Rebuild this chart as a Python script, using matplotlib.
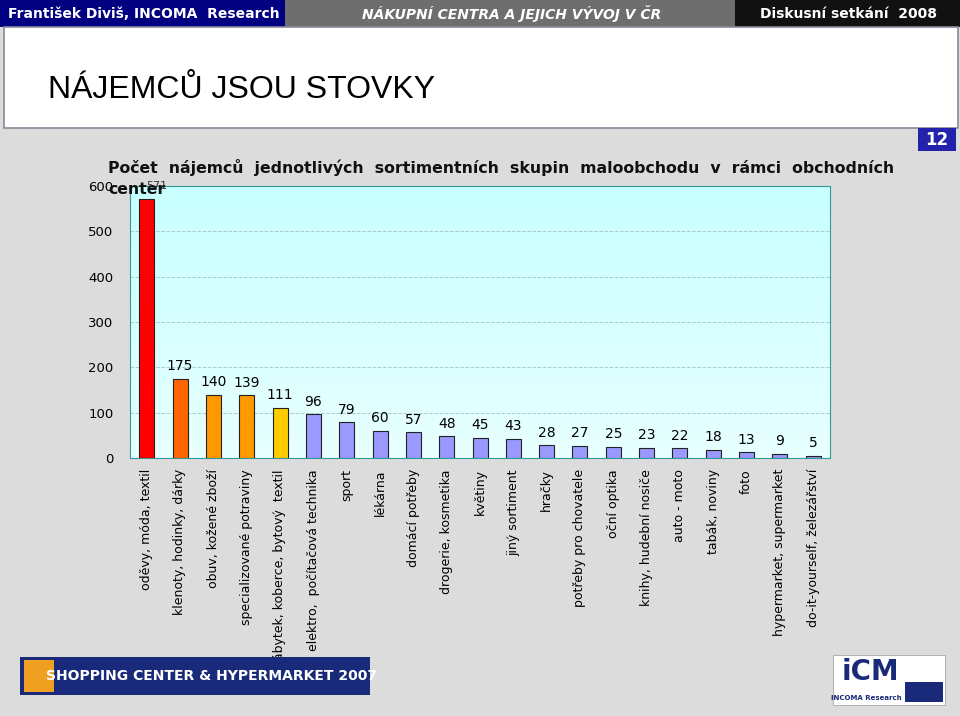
import matplotlib
matplotlib.use("Agg")
import matplotlib.pyplot as plt
import numpy as np
from matplotlib.patches import Rectangle

categories = ["oděvy, móda, textil", "klenoty, hodinky, dárky", "obuv, kožené zboží",
              "specializované potraviny", "nábytek, koberce, bytový  textil",
              "elektro,  počítačová technika", "sport", "lékárna", "domácí potřeby",
              "drogerie, kosmetika", "květiny", "jiný sortiment", "hračky",
              "potřeby pro chovatele", "oční optika", "knihy, hudební nosiče",
              "auto - moto", "tabák, noviny", "foto", "hypermarket, supermarket",
              "do-it-yourself, železářství"]
values = [571, 175, 140, 139, 111, 96, 79, 60, 57, 48, 45, 43, 28, 27, 25, 23, 22, 18, 13, 9, 5]
colors = ["#ff0000", "#ff6600", "#ff9900", "#ff9900", "#ffcc00"] + ["#9999ff"] * 16
yticks = [0, 100, 200, 300, 400, 500, 600]

W, H = 960, 716
fig = plt.figure(figsize=(9.6, 7.16), dpi=100, facecolor="#dcdcdc")

def box(x, y, w, h, fc, ec="none", lw=0, z=0):
    fig.patches.append(Rectangle((x / W, 1 - (y + h) / H), w / W, h / H, transform=fig.transFigure,
                                 facecolor=fc, edgecolor=ec, linewidth=lw, zorder=z))

def txt(x, y, s, **kw):
    fig.text(x / W, 1 - y / H, s, **kw)

# header
box(0, 0, 285, 27, "#000080")
box(285, 0, 450, 27, "#6e6e6e")
box(735, 0, 225, 27, "#111111")
txt(8, 14, "František Diviš, INCOMA  Research", color="white", fontsize=10, weight="bold", va="center")
txt(512, 14, "NÁKUPNÍ CENTRA A JEJICH VÝVOJ V ČR", color="white", fontsize=10, weight="bold",
    style="italic", va="center", ha="center")
txt(848, 14, "Diskusní setkání  2008", color="white", fontsize=10, weight="bold", va="center", ha="center")
box(4, 27, 954, 101, "white", ec="#888899", lw=1.2)
txt(48, 90, "NÁJEMCŮ JSOU STOVKY", fontsize=23, va="center", family="Liberation Sans")
box(918, 128, 38, 23, "#2222aa")
txt(937, 140, "12", color="white", fontsize=12, weight="bold", ha="center", va="center")

ax = fig.add_axes([130 / W, 1 - 458 / H, 700 / W, 272 / H])
ax.set_facecolor("#ccffff")
grad = np.linspace(1, 0, 256).reshape(-1, 1)
ax.imshow(grad, extent=[-0.5, len(values) - 0.5, 0, 600], aspect="auto",
          cmap=matplotlib.colors.LinearSegmentedColormap.from_list("g", ["#e8ffff", "#c8ffff"]),
          zorder=0)
x = np.arange(len(values))
ax.bar(x, values, width=0.45, color=colors, edgecolor="#222222", linewidth=0.8, zorder=3)
for xi, v in zip(x, values):
    if xi == 0:
        ax.text(xi, 600, str(v), ha="left", va="center", fontsize=8, zorder=4, color="#333333")
        continue
    ax.text(xi, v + 12, str(v), ha="center", va="bottom", fontsize=10, zorder=4)
ax.set_xlim(-0.5, len(values) - 0.5)
ax.set_ylim(0, 600)
ax.set_yticks(yticks)
ax.set_yticklabels([str(t) for t in yticks], fontsize=9.5)
ax.yaxis.grid(True, linestyle="--", color="#aacccc", linewidth=0.7, zorder=1)
ax.tick_params(axis="y", length=0, pad=12)
ax.set_xticks(x)
ax.set_xticklabels(categories, rotation=90, fontsize=9, va="top")
ax.tick_params(axis="x", length=0, pad=8)
for s in ax.spines.values():
    s.set_color("#339999")

txt(108, 168, "Počet  nájemců  jednotlivých  sortimentních  skupin  maloobchodu  v  rámci  obchodních",
    fontsize=11.3, weight="bold", va="center", color="#111111")
txt(108, 190, "center", fontsize=11.3, weight="bold", va="center", color="#111111")

# logos
box(20, 657, 350, 38, "#1a2a7a")
box(24, 660, 30, 32, "#f0a020")
txt(212, 676, "SHOPPING CENTER & HYPERMARKET 2007", color="white", fontsize=10, weight="bold",
    ha="center", va="center")
box(833, 655, 112, 50, "white", ec="#999999", lw=0.5)
txt(870, 672, "iCM", color="#1a2a7a", fontsize=20, weight="bold", ha="center", va="center")
box(905, 682, 38, 20, "#1a2a7a")
txt(866, 698, "INCOMA Research", color="#1a2a7a", fontsize=5, weight="bold", ha="center", va="center")

fig.savefig("out.png", dpi=100, facecolor=fig.get_facecolor())
